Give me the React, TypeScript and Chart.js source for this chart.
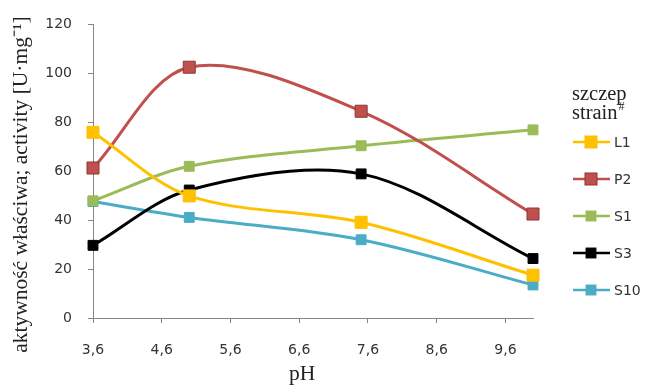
import React, { useEffect, useRef } from "react";
import { Chart, registerables } from "chart.js";
Chart.register(...registerables);

const pH = [3.6, 5.0, 7.5, 10.0];
const seriesNames = ["L1", "P2", "S1", "S3", "S10"];
const L1 = [75.9, 49.9, 39.1, 17.5];
const P2 = [61.3, 102.5, 84.5, 42.5];
const S1 = [47.9, 62.0, 70.4, 76.9];
const S3 = [29.7, 52.3, 58.9, 24.3];
const S10 = [47.6, 41.1, 32.0, 13.5];
const seriesValues = [L1, P2, S1, S3, S10];
const xTicks = [3.6, 4.6, 5.6, 6.6, 7.6, 8.6, 9.6];
const yTicks = [0, 20, 40, 60, 80, 100, 120];

const lineColors = ["#FFC000", "#C0504D", "#9BBB59", "#000000", "#4BACC6"];
const markerFill = ["#FFC000", "#C0504D", "#9BBB59", "#000000", "#4BACC6"];
const markerBorder = ["#FFC000", "#8C3836", "#9BBB59", "#000000", "#4BACC6"];
const markerRadius = [8.5, 8.5, 7, 7, 7];

const legendPlugin = {
  id: "customLegend",
  afterDraw(chart: any) {
    const ctx = chart.ctx;
    ctx.save();
    ctx.fillStyle = "#222";
    ctx.textBaseline = "alphabetic";
    ctx.textAlign = "left";
    ctx.font = "20.5px 'Liberation Serif'";
    const tx = 572;
    ctx.fillText("szczep", tx, 100);
    ctx.fillText("strain", tx, 119);
    const w = ctx.measureText("strain").width;
    ctx.font = "12px 'Liberation Serif'";
    ctx.fillText("#", tx + w + 1, 110);
    const x0 = 573, x1 = 610, xm = 591, textX = 614;
    chart.data.datasets.forEach((ds: any, i: number) => {
      const y = 142 + i * 37;
      ctx.strokeStyle = ds.borderColor;
      ctx.lineWidth = 2.5;
      ctx.beginPath();
      ctx.moveTo(x0, y);
      ctx.lineTo(x1, y);
      ctx.stroke();
      const s = ds.pointRadius * Math.SQRT1_2;
      ctx.fillStyle = ds.pointBackgroundColor;
      ctx.fillRect(xm - s, y - s, 2 * s, 2 * s);
      ctx.strokeStyle = ds.pointBorderColor;
      ctx.lineWidth = 1;
      ctx.strokeRect(xm - s, y - s, 2 * s, 2 * s);
      ctx.fillStyle = "#333";
      ctx.font = "14px 'DejaVu Sans'";
      ctx.textBaseline = "middle";
      ctx.fillText(ds.label, textX, y + 1);
      ctx.textBaseline = "alphabetic";
    });
    ctx.restore();
  },
};

export default function App() {
  const ref = useRef<HTMLCanvasElement>(null);
  useEffect(() => {
    document.body.style.margin = "0";
    const datasets = seriesNames.map((name, i) => ({
      label: name,
      data: pH.map((x, j) => ({ x, y: seriesValues[i][j] })),
      borderColor: lineColors[i],
      backgroundColor: lineColors[i],
      borderWidth: 3,
      tension: 0.33,
      pointStyle: "rect",
      pointRadius: markerRadius[i],
      pointHoverRadius: markerRadius[i],
      pointBackgroundColor: markerFill[i],
      pointBorderColor: markerBorder[i],
      pointBorderWidth: 1,
      clip: false,
    }));
    const chart = new Chart(ref.current!, {
      type: "line",
      data: { datasets },
      options: {
        animation: false,
        responsive: false,
        layout: { padding: { top: 22, right: 113, left: 0, bottom: 0 } },
        plugins: { legend: { display: false }, tooltip: { enabled: false } },
        scales: {
          x: {
            type: "linear",
            min: 3.6,
            max: 10,
            afterBuildTicks: (s: any) => {
              s.ticks = xTicks.map((v) => ({ value: v }));
            },
            afterFit: (s: any) => {
              s.height = 69;
            },
            ticks: {
              callback: (v: any) => Number(v).toFixed(1).replace(".", ","),
              font: { family: "'DejaVu Sans'", size: 14 },
              color: "#333",
              padding: 19,
              maxRotation: 0,
              autoSkip: false,
            },
            grid: { drawOnChartArea: false, drawTicks: true, tickLength: 5, color: "#868686" },
            border: { display: true, color: "#868686", width: 1 },
            title: {
              display: true,
              text: "pH    ",
              font: { family: "'Liberation Serif'", size: 21.5 },
              color: "#222",
              padding: { top: 0, bottom: 0 },
            },
          },
          y: {
            min: 0,
            max: 120,
            afterBuildTicks: (s: any) => {
              s.ticks = yTicks.map((v) => ({ value: v }));
            },
            afterFit: (s: any) => {
              s.width = 93;
            },
            ticks: {
              font: { family: "'DejaVu Sans'", size: 14 },
              color: "#333",
              padding: 16,
            },
            grid: { drawOnChartArea: false, drawTicks: true, tickLength: 5, color: "#868686" },
            border: { display: true, color: "#868686", width: 1 },
            title: {
              display: true,
              text: "aktywność właściwa; activity [U·mg⁻¹]     ",
              font: { family: "'Liberation Serif'", size: 21.5 },
              color: "#222",
              padding: { top: 8, bottom: 0 },
            },
          },
        },
      },
      plugins: [legendPlugin],
    } as any);
    return () => chart.destroy();
  }, []);
  return (
    <div style={{ width: 646, height: 387, background: "#fff" }}>
      <canvas ref={ref} width={646} height={387} style={{ display: "block" }} />
    </div>
  );
}
